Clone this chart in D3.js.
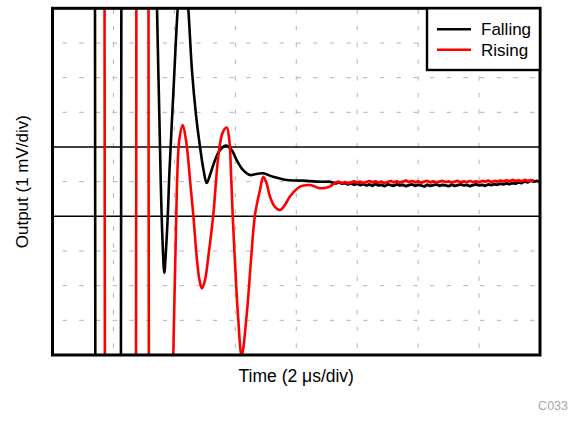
<!DOCTYPE html>
<html><head><meta charset="utf-8">
<script src="https://cdn.jsdelivr.net/npm/d3@7"></script>
<style>body{margin:0;background:#fff}svg{display:block}</style>
</head><body>
<svg id="chart" width="570" height="447"></svg>
<script>
// ---- data (time in µs, output in mV) ----
const xDivs = [0,2,4,6,8,10,12,14,16];           // 2 µs/div
const yDivs = [-5,-4,-3,-2,-1,0,1,2,3,4,5];       // 1 mV/div
const refLevels = [-1, 1];
const seriesNames = ["Falling", "Rising"];
const seriesColors = ["#000000", "#ff0000"];
const tailStart = 9.1;   // after this the traces are only noise around the settled level

const fallingT = [1.20,1.39,1.41,1.60,2.05,2.24,2.265,2.45,3.25,3.43,3.495,3.551,3.61,3.669,3.725,3.791,3.833,3.971,4.109,4.283,4.457,4.578,4.71,4.841,4.956,5.06,5.169,5.333,5.497,5.694,5.881,6.045,6.252,6.482,6.679,6.908,7.237,7.686,8.221,8.671,9.107,
 9.2,9.3,9.4,9.5,9.6,9.7,9.8,9.9,10.0,10.1,10.2,10.3,10.4,10.5,10.6,10.7,10.8,10.9,11.0,11.1,11.2,11.3,11.4,11.5,11.6,11.7,11.8,11.9,12.0,12.1,12.2,12.3,12.4,12.5,12.6,12.7,12.8,12.9,13.0,13.1,13.2,13.3,13.4,13.5,13.6,13.7,13.8,13.9,14.0,14.1,14.2,14.3,14.4,14.5,14.6,14.7,14.8,14.9,15.0,15.1,15.2,15.3,15.4,15.5,15.6,15.7,15.8,15.9,16.0];
const fallingV = [20,9,-9,-20,-20,-9,9,20,20,5.0,2.37,0.05,-1.68,-2.63,-1.97,-0.82,0.19,2.64,5.0,7.0,5.0,3.2,1.92,1.01,0.34,-0.04,0.19,0.62,0.91,1.04,0.91,0.62,0.34,0.19,0.22,0.24,0.14,0.05,0.03,0.0,0.0,
 -0.03,-0.05,-0.02,-0.06,-0.04,-0.08,-0.05,-0.09,-0.06,-0.10,-0.07,-0.11,-0.08,-0.12,-0.07,-0.11,-0.09,-0.13,-0.08,-0.10,-0.12,-0.08,-0.11,-0.09,-0.13,-0.10,-0.08,-0.12,-0.09,-0.11,-0.14,-0.09,-0.12,-0.10,-0.08,-0.12,-0.09,-0.11,-0.13,-0.09,-0.12,-0.10,-0.08,-0.11,-0.09,-0.13,-0.10,-0.08,-0.11,-0.09,-0.12,-0.08,-0.10,-0.07,-0.09,-0.06,-0.08,-0.05,-0.07,-0.04,-0.06,-0.02,-0.04,0.01,-0.02,0.03,0.00,0.02,-0.01];

const risingT = [1.50,1.705,1.725,1.95,2.50,2.735,2.755,2.95,3.00,3.148,3.168,3.35,3.90,3.964,4.063,4.096,4.161,4.273,4.381,4.457,4.513,4.621,4.742,4.824,4.906,5.005,5.120,5.277,5.441,5.579,5.717,5.803,5.865,5.914,6.088,6.209,6.373,6.515,6.646,6.81,6.918,7.023,7.138,7.302,7.466,7.63,7.794,8.122,8.451,8.779,9.107,
 9.2,9.3,9.4,9.5,9.6,9.7,9.8,9.9,10.0,10.1,10.2,10.3,10.4,10.5,10.6,10.7,10.8,10.9,11.0,11.1,11.2,11.3,11.4,11.5,11.6,11.7,11.8,11.9,12.0,12.1,12.2,12.3,12.4,12.5,12.6,12.7,12.8,12.9,13.0,13.1,13.2,13.3,13.4,13.5,13.6,13.7,13.8,13.9,14.0,14.1,14.2,14.3,14.4,14.5,14.6,14.7,14.8,14.9,15.0,15.1,15.2,15.3,15.4,15.5,15.6,15.7,15.8,15.9,16.0];
const risingV = [20,9,-9,-20,-20,-9,9,20,20,9,-9,-20,-8,-5.0,-0.96,0.19,1.20,1.63,1.20,0.62,0.05,-0.96,-2.26,-2.84,-3.08,-2.84,-2.12,-0.96,0.72,1.40,1.56,1.20,0.105,-0.96,-3.85,-5.03,-3.85,-2.26,-0.96,-0.24,0.14,-0.04,-0.43,-0.73,-0.82,-0.67,-0.43,-0.146,-0.097,-0.19,-0.146,
 -0.08,-0.02,0.00,-0.04,-0.01,-0.05,-0.02,0.01,-0.03,0.00,-0.04,-0.01,0.02,-0.02,0.01,-0.03,0.00,-0.04,-0.01,0.02,-0.02,0.01,-0.03,0.00,0.03,-0.01,0.02,-0.02,0.01,-0.03,0.00,0.02,-0.02,0.01,-0.03,0.00,0.02,-0.01,0.01,-0.03,0.00,0.02,-0.02,0.01,-0.01,0.02,-0.01,0.01,-0.02,0.02,0.00,0.03,-0.01,0.02,0.00,0.03,0.01,0.04,0.01,0.05,0.02,0.04,0.01,0.05,0.02,0.04,0.03];

// ---- layout ----
const svg = d3.select("#chart");
const L = 52.5, R = 540, T = 8.3, B = 355;
const x = d3.scaleLinear().domain([0,16]).range([L,R]);
const y = d3.scaleLinear().domain([-5,5]).range([B,T]);

// grid
const g = svg.append("g");
g.selectAll("line.vg").data(xDivs.slice(1,-1)).join("line")
  .attr("x1", d=>x(d)).attr("x2", d=>x(d)).attr("y1", T).attr("y2", B)
  .attr("stroke", "#b4b4b4").attr("stroke-width", 1).attr("stroke-dasharray", "4.5,12.2").attr("stroke-dashoffset", -1);
g.selectAll("line.hg").data(yDivs.slice(1,-1).filter(d=>!refLevels.includes(d))).join("line")
  .attr("x1", L).attr("x2", R).attr("y1", d=>y(d)).attr("y2", d=>y(d))
  .attr("stroke", "#b4b4b4").attr("stroke-width", 1).attr("stroke-dasharray", "4.5,12.2").attr("stroke-dashoffset", -10);
g.selectAll("line.ref").data(refLevels).join("line")
  .attr("x1", L).attr("x2", R).attr("y1", d=>y(d)).attr("y2", d=>y(d))
  .attr("stroke", "#000").attr("stroke-width", 1.6);

// clip
svg.append("defs").append("clipPath").attr("id","clip")
  .append("rect").attr("x", L).attr("y", T).attr("width", R-L).attr("height", B-T);

const smooth = d3.line().x(d=>x(d[0])).y(d=>y(d[1])).curve(d3.curveCatmullRom.alpha(0.5));
const noisy = d3.line().x(d=>x(d[0])).y(d=>y(d[1]));
const series = [d3.zip(fallingT, fallingV), d3.zip(risingT, risingV)];
const traces = svg.append("g").attr("clip-path","url(#clip)");
series.forEach((s,i)=>{
  const head = s.filter(d=>d[0] <= tailStart + 0.01);
  const tail = s.filter(d=>d[0] >= tailStart - 0.01);
  traces.append("path").attr("d", smooth(head)).attr("fill","none")
    .attr("stroke", seriesColors[i]).attr("stroke-width", 2.6).attr("stroke-linejoin","round");
  traces.append("path").attr("d", noisy(tail)).attr("fill","none")
    .attr("stroke", seriesColors[i]).attr("stroke-width", 2.8).attr("stroke-linejoin","round");
});

// frame
svg.append("rect").attr("x", L).attr("y", T).attr("width", R-L).attr("height", B-T)
  .attr("fill","none").attr("stroke","#000").attr("stroke-width", 3);

// legend
const lg = svg.append("g");
lg.append("rect").attr("x", 427).attr("y", T).attr("width", R-427).attr("height", 70-T)
  .attr("fill","#fff").attr("stroke","#000").attr("stroke-width", 2.4);
seriesNames.forEach((n,i)=>{
  const yy = 29.3 + i*20.4;
  lg.append("line").attr("x1", 437).attr("x2", 471).attr("y1", yy).attr("y2", yy)
    .attr("stroke", seriesColors[i]).attr("stroke-width", 2.6);
  lg.append("text").attr("x", 481).attr("y", yy+6).text(n)
    .attr("font-family","'Liberation Sans', Arial, sans-serif").attr("font-size", 17).attr("fill","#000");
});

// axis titles
svg.append("text").attr("x", (L+R)/2).attr("y", 382).attr("text-anchor","middle")
  .attr("font-family","'Liberation Sans', Arial, sans-serif").attr("font-size", 17.5)
  .text("Time (2 μs/div)");
svg.append("text").attr("transform", `translate(28,${(T+B)/2}) rotate(-90)`).attr("text-anchor","middle")
  .attr("font-family","'Liberation Sans', Arial, sans-serif").attr("font-size", 17)
  .text("Output (1 mV/div)");
svg.append("text").attr("x", 568).attr("y", 410).attr("text-anchor","end")
  .attr("font-family","'Liberation Sans', Arial, sans-serif").attr("font-size", 12.5).attr("fill","#a8a8a8")
  .text("C033");
</script>
</body></html>
